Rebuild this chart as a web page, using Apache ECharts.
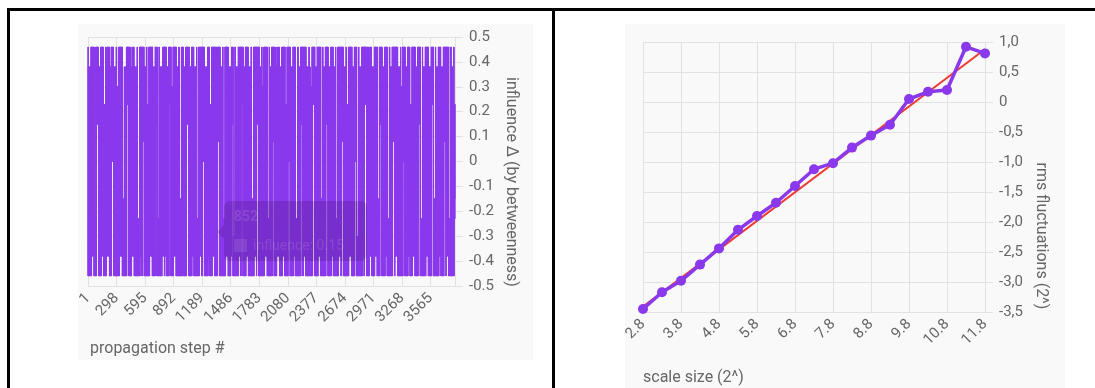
<!DOCTYPE html>
<html>
<head>
<meta charset="utf-8">
<script src="https://cdn.jsdelivr.net/npm/echarts@6/dist/echarts.min.js"></script>
<style>
  html, body { margin: 0; padding: 0; background: #fff; }
  #chart { width: 1095px; height: 388px; }
</style>
</head>
<body>
<div id="chart"></div>
<script>
// left panel: influence delta per propagation step
// levels by letter, steps written as runs "<letters><repeat>"
const influenceLevels = {
  A: -0.46, B: -0.38, C: -0.3, D: -0.23, E: -0.15, F: -0.08, G: 0,
  H: 0.08, I: 0.15, J: 0.23, K: 0.3, L: 0.38, M: 0.46
}
const influenceRuns = [
  'MA2 LA14 MA3 MB12 MA2 DA8',
  'MA3 MI10 LA12 MA3 MB11',
  'JA12 MA3 LB6 MB10 MA2 LA8',
  'MA2 MG10 LA14 MA3 KA9 MA2',
  'MA3 MB14 MA2 EA9 LA11',
  'MA2 MJ10 MA3 MALALA4 LB5 MB8',
  'LA16 MA2 DA10 MA3 MB9',
  'MA3 MH9 LA12 MA3 JA10 MA2',
  'MA2 MB13 MA3 LA13 MI8',
  'MA3 DA9 MA3 LA12 LB4 MB8',
  'MA3 MBMB4 LA11 MA3 MJ9 MA2',
  'KA10 MA2 MB13 MA2 LA13',
  'MA3 EA10 MA3 MBMA4 LA12 MA2',
  'MA2 MI11 MA3 LA12 MA2 MB10',
  'LA14 MA2 DA9 MA3 MB12 MA2',
  'MA3 MG9 MA2 LA16 MA2 MB8',
  'JA10 MA3 MB14 MA3 MALA5',
  'MA2 MH10 MA3 LA13 MA2 DA10',
  'MA3 MB13 MA2 LA12 LB4 MI7',
  'MA2 CA9 MA3 LA14 MA2 MB10',
  'MA3 MJ9 MA2 LA11 MA3 MB12',
  'LA15 MA3 EA10 MA2 MB12',
  'MA2 MI10 MA3 LA13 MA2 KA9',
  'MA3 MB14 MA2 DA9 MA2 LA11',
  'MA3 MH9 MA2 MALALA4 LB5 MB9',
  'LA13 MA2 MB12 MA3 JA10 MA2',
  'MA3 MG10 MA2 LA14 MA2 MB9',
  'MA2 DA11 MA3 LA12 MA2 MI9',
  'MA3 MB13 MA2 LA15 MA3 LB4',
  'KA9 MA3 MJ10 MA2 LA12 MA2',
  'MA2 MB12 MA3 EA9 MA2 LA12',
  'MA3 MI10 MA2 LA14 MA3 MB9',
  'LA12 MA2 DA10 MA3 MB13',
  'MA3 MH9 MA2 LA13 MA2 JA10',
  'MA2 MB14 MA3 LA12 MA2 MG8',
  'MA3 CA9 MA2 LA15 MA2 MB9',
  'MA3 MJ10 MA2 MALA6 LB4 MB9',
  'LA14 MA2 MB12 MA3 EA9',
  'MA3 MI9 MA3 LA13 MA2 MB10',
  'MA2 DA10 MA3 LA12 MA2 MH9',
  'MA3 MB13 MA2 LA14 MA2 KA8',
  'MA3 MG9 MA3 LA12 MA2 MB10',
  'JA11 MA2 MB13 MA3 LA12',
  'MA2 MI10 MA3 DA9 MA2 LA13',
  'MA3 MB12 MA2 LA14 MA2 MJ8',
  'MA3 EA9 MA2 LA13 MA3 MB10',
  'LA13 MA3 MH10 MA2 MB12',
  'MA2 DA9 MA3 LA12 MA3 JD4 JE1'
]

const influenceValues = []
influenceRuns.join(' ').split(' ').forEach(tok => {
  const m = tok.match(/^([A-M]+)(\d+)$/)
  for (let r = 0; r < +m[2]; r++) {
    for (const c of m[1]) influenceValues.push(influenceLevels[c])
  }
})
const propagationSteps = influenceValues.map((v, i) => String(i + 1))
const influenceTicks = [-0.5, -0.4, -0.3, -0.2, -0.1, 0, 0.1, 0.2, 0.3, 0.4, 0.5]

// right panel: rms fluctuation vs scale size, both log2
const scaleSizes = [2.8, 3.3, 3.8, 4.3, 4.8, 5.3, 5.8, 6.3, 6.8, 7.3, 7.8, 8.3, 8.8, 9.3, 9.8, 10.3, 10.8, 11.3, 11.8]
const rmsValues = [-3.45, -3.17, -2.98, -2.71, -2.44, -2.13, -1.90, -1.68, -1.40, -1.12, -1.02, -0.76, -0.56, -0.38, 0.05, 0.17, 0.20, 0.92, 0.81]
const fitX = [2.8, 11.8]
const fitY = [-3.41, 0.88]
const rmsTicks = [-3.5, -3.0, -2.5, -2.0, -1.5, -1.0, -0.5, 0, 0.5, 1.0]
const scaleTicks = [2.8, 3.8, 4.8, 5.8, 6.8, 7.8, 8.8, 9.8, 10.8, 11.8]

const purple = '#8a38ec'
const gridColor = '#e2e2e2'
const labelColor = '#666'
const font = 'Roboto, "Liberation Sans", sans-serif'

const chart = echarts.init(document.getElementById('chart'), null, { renderer: 'canvas' })

chart.setOption({
  animation: false,
  textStyle: { fontFamily: font },
  grid: [
    { left: 88, right: 640, top: 37, bottom: 102 },
    { left: 643, right: 110, top: 42, bottom: 76 }
  ],
  xAxis: [
    {
      gridIndex: 0,
      type: 'category',
      boundaryGap: false,
      data: propagationSteps,
      axisLine: { lineStyle: { color: gridColor } },
      axisTick: { interval: 296, length: 8, lineStyle: { color: gridColor } },
      splitLine: { show: true, interval: 296, lineStyle: { color: gridColor } },
      axisLabel: { interval: 296, rotate: 45, color: labelColor, fontSize: 15, margin: 10 }
    },
    {
      gridIndex: 1,
      type: 'value',
      min: scaleTicks[0],
      max: scaleTicks[scaleTicks.length - 1],
      interval: 1,
      axisLine: { lineStyle: { color: gridColor } },
      axisTick: { length: 8, lineStyle: { color: gridColor } },
      splitLine: { show: true, lineStyle: { color: gridColor } },
      axisLabel: {
        rotate: 45, color: labelColor, fontSize: 15, margin: 10,
        formatter: v => v.toFixed(1)
      }
    }
  ],
  yAxis: [
    {
      gridIndex: 0,
      type: 'value',
      position: 'right',
      min: influenceTicks[0],
      max: influenceTicks[influenceTicks.length - 1],
      interval: 0.1,
      axisLine: { show: true, lineStyle: { color: gridColor } },
      axisTick: { show: true, length: 8, lineStyle: { color: gridColor } },
      splitLine: { show: true, lineStyle: { color: gridColor } },
      axisLabel: {
        color: labelColor, fontSize: 15, margin: 14,
        formatter: v => String(Math.round(v * 10) / 10)
      }
    },
    {
      gridIndex: 1,
      type: 'value',
      position: 'right',
      min: rmsTicks[0],
      max: rmsTicks[rmsTicks.length - 1],
      interval: 0.5,
      axisLine: { show: true, lineStyle: { color: gridColor } },
      axisTick: { show: true, length: 8, lineStyle: { color: gridColor } },
      splitLine: { show: true, lineStyle: { color: gridColor } },
      axisLabel: {
        color: labelColor, fontSize: 15, margin: 14,
        formatter: v => (v === 0 ? '0' : v.toFixed(1).replace('.', ','))
      }
    }
  ],
  series: [
    {
      name: 'influence',
      type: 'line',
      xAxisIndex: 0,
      yAxisIndex: 0,
      data: influenceValues,
      symbol: 'none',
      lineStyle: { color: purple, width: 1 }
    },
    {
      name: 'fit',
      type: 'line',
      xAxisIndex: 1,
      yAxisIndex: 1,
      data: fitX.map((x, i) => [x, fitY[i]]),
      symbol: 'none',
      lineStyle: { color: '#ee3b33', width: 2 },
      z: 2
    },
    {
      name: 'rms',
      type: 'line',
      xAxisIndex: 1,
      yAxisIndex: 1,
      data: scaleSizes.map((x, i) => [x, rmsValues[i]]),
      symbol: 'circle',
      symbolSize: 10,
      itemStyle: { color: purple },
      lineStyle: { color: purple, width: 3.5 },
      z: 3
    }
  ],
  graphic: [
    // panel backgrounds
    { type: 'rect', z: -10, shape: { x: 78, y: 24, width: 455, height: 336 }, style: { fill: '#f9f9f9' } },
    { type: 'rect', z: -10, shape: { x: 625, y: 24, width: 440, height: 364 }, style: { fill: '#f9f9f9' } },
    // table borders
    { type: 'rect', z: 50, shape: { x: 7, y: 8, width: 1088, height: 3 }, style: { fill: '#000' } },
    { type: 'rect', z: 50, shape: { x: 7, y: 8, width: 3, height: 380 }, style: { fill: '#000' } },
    { type: 'rect', z: 50, shape: { x: 552, y: 8, width: 3, height: 380 }, style: { fill: '#000' } },
    // axis titles
    { type: 'text', z: 50, x: 90, y: 349, style: { text: 'propagation step #', fill: labelColor, font: '16px ' + font, textVerticalAlign: 'middle' } },
    { type: 'text', z: 50, x: 511, y: 182, rotation: -Math.PI / 2, style: { text: 'influence Δ (by betweenness)', fill: labelColor, font: '16px ' + font, textAlign: 'center', textVerticalAlign: 'middle' } },
    { type: 'text', z: 50, x: 643, y: 378, style: { text: 'scale size (2^)', fill: labelColor, font: '16px ' + font, textVerticalAlign: 'middle' } },
    { type: 'text', z: 50, x: 1041, y: 236, rotation: -Math.PI / 2, style: { text: 'rms fluctuations (2^)', fill: labelColor, font: '16px ' + font, textAlign: 'center', textVerticalAlign: 'middle' } },
    // faded tooltip left over the signal
    { type: 'rect', z: 40, shape: { x: 224, y: 201, width: 143, height: 60, r: 6 }, style: { fill: 'rgba(50,10,80,0.2)' } },
    { type: 'polygon', z: 40, shape: { points: [[224, 225], [217, 232], [224, 239]] }, style: { fill: 'rgba(50,10,80,0.2)' } },
    { type: 'text', z: 41, x: 234, y: 217, style: { text: '852', fill: 'rgba(255,255,255,0.12)', font: 'bold 14px ' + font, textVerticalAlign: 'middle' } },
    { type: 'rect', z: 41, shape: { x: 234, y: 239, width: 13, height: 13 }, style: { fill: 'rgba(255,255,255,0.1)' } },
    { type: 'text', z: 41, x: 253, y: 246, style: { text: 'influence: 0.15', fill: 'rgba(255,255,255,0.12)', font: '14px ' + font, textVerticalAlign: 'middle' } }
  ]
})
</script>
</body>
</html>
